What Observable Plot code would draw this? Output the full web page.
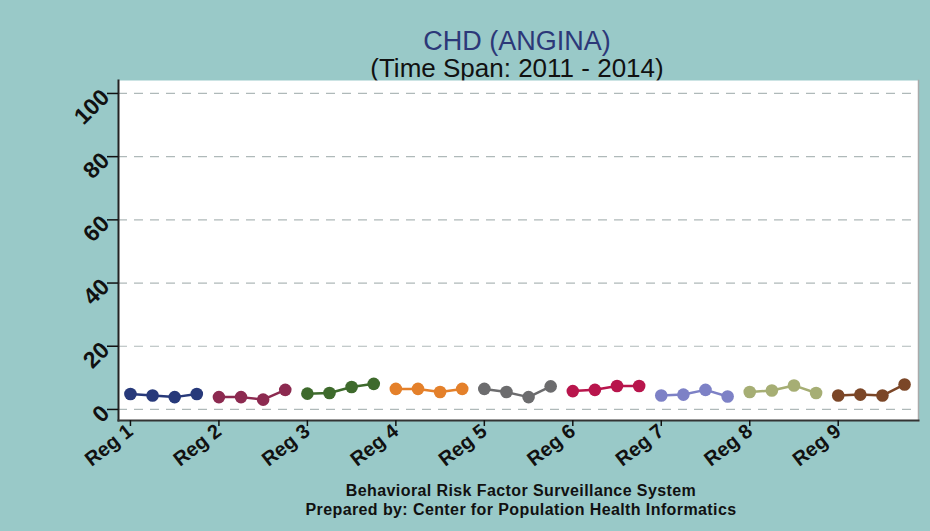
<!DOCTYPE html>
<html><head><meta charset="utf-8">
<script src="https://cdn.jsdelivr.net/npm/d3@7"></script>
<script src="https://cdn.jsdelivr.net/npm/@observablehq/plot@0.6"></script>
<style>
html,body{margin:0;padding:0;background:#99c9c8;width:930px;height:531px;overflow:hidden;font-family:"Liberation Sans",Arial,sans-serif}
#title{position:absolute;left:217px;width:600px;top:26px;text-align:center;font-size:27px;line-height:30px;color:#2c3878}
#subtitle{position:absolute;left:217px;width:600px;top:54px;text-align:center;font-size:26px;line-height:28px;color:#111}
#chart{position:absolute;left:0;top:80px}
.cap{position:absolute;left:221px;width:600px;text-align:center;font-size:16px;line-height:16px;letter-spacing:0.4px;font-weight:bold;color:#111}
#cap1{top:483px}
#cap2{top:502px}
</style></head>
<body>
<div id="title">CHD (ANGINA)</div>
<div id="subtitle">(Time Span: 2011 - 2014)</div>
<div id="chart"></div>
<div class="cap" id="cap1">Behavioral Risk Factor Surveillance System</div>
<div class="cap" id="cap2">Prepared by: Center for Population Health Informatics</div>
<script>
const regions = ["Reg 1","Reg 2","Reg 3","Reg 4","Reg 5","Reg 6","Reg 7","Reg 8","Reg 9"];
const years = [2011, 2012, 2013, 2014];
const yTicks = [0, 20, 40, 60, 80, 100];
const colors = ["#27397a","#8c2a50","#3e6a2c","#e4802a","#6c6c6e","#b8154c","#7d81c6","#a6ae74","#7b4627"];
const reg1 = [4.9, 4.4, 3.9, 4.9];
const reg2 = [3.9, 3.9, 3.1, 6.2];
const reg3 = [5.0, 5.2, 7.1, 8.1];
const reg4 = [6.5, 6.5, 5.5, 6.5];
const reg5 = [6.5, 5.5, 3.9, 7.3];
const reg6 = [5.8, 6.2, 7.4, 7.4];
const reg7 = [4.4, 4.7, 6.2, 4.1];
const reg8 = [5.5, 6.0, 7.6, 5.2];
const reg9 = [4.4, 4.7, 4.4, 7.9];
const series = [reg1, reg2, reg3, reg4, reg5, reg6, reg7, reg8, reg9];
const data = regions.flatMap((r, k) => series[k].map((v, j) => ({region: r, year: years[j], i: k * years.length + j, v})));
const tickPos = regions.map((r, k) => k * years.length);

const plot = Plot.plot({
  width: 930, height: 395,
  marginLeft: 118, marginRight: 12, marginTop: 0, marginBottom: 55,
  style: {background: "transparent", fontFamily: "Liberation Sans, Arial, sans-serif", overflow: "visible", color: "#111"},
  x: {domain: [-0.54, 35.63]},
  y: {domain: [-3.5, 104.1]},
  color: {domain: regions, range: colors},
  marks: [
    Plot.frame({fill: "white", stroke: null}),
    Plot.gridY(yTicks, {stroke: "#7a8a8b", strokeOpacity: 0.6, strokeDasharray: "9,7", strokeWidth: 1.2}),
    Plot.frame({anchor: "right", stroke: "#aaa", strokeWidth: 1.5}),
    Plot.frame({anchor: "left", stroke: "#222", strokeWidth: 2}),
    Plot.frame({anchor: "bottom", stroke: "#333", strokeWidth: 2}),
    Plot.axisY(yTicks, {tickSize: 11, tickRotate: -45, fontSize: 23, fontWeight: "bold", tickPadding: 2, label: null, strokeWidth: 1.5}),
    Plot.axisX(tickPos, {tickFormat: i => regions[i / years.length], tickSize: 6, tickRotate: -38, fontSize: 20, fontWeight: "bold", tickPadding: 2, label: null, strokeWidth: 1.5}),
    Plot.line(data, {x: "i", y: "v", z: "region", stroke: "region", strokeWidth: 2.5}),
    Plot.dot(data, {x: "i", y: "v", fill: "region", r: 6.3})
  ]
});
document.getElementById("chart").appendChild(plot);
</script>
</body></html>
